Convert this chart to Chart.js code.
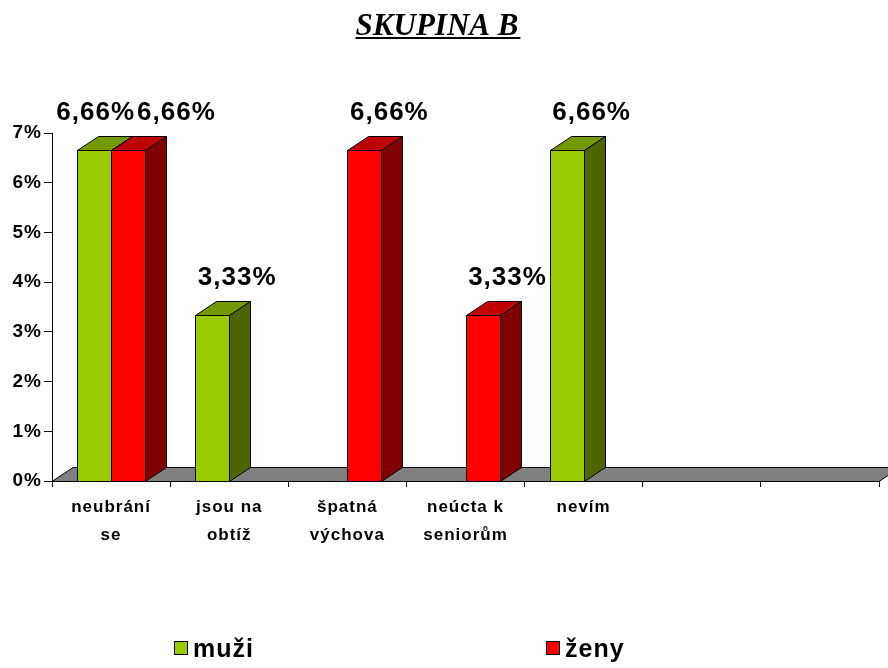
<!DOCTYPE html>
<html>
<head>
<meta charset="utf-8">
<script src="https://cdn.jsdelivr.net/npm/chart.js@4.4.0/dist/chart.umd.min.js"></script>
<style>
  body { margin: 0; background: #fff; }
  canvas { display: block; }
</style>
</head>
<body>
<canvas id="chart" width="888" height="668"></canvas>
<script>
// chart data
const chartTitle = 'SKUPINA B';
const categories = [['neubrání', 'se'], ['jsou na', 'obtíž'], ['špatná', 'výchova'], ['neúcta k', 'seniorům'], 'nevím', '', ''];
const seriesNames = ['muži', 'ženy'];
const muzi = [6.66, 3.33, null, null, 6.66, null, null];
const zeny = [6.66, null, 6.66, 3.33, null, null, null];
const yMax = 7;

// front / top / side colours of the 3d bars
const faces = [
  { front: '#99CC00', top: '#739900', side: '#4D6600' },
  { front: '#FF0000', top: '#BF0000', side: '#800000' }
];

const FONT = '"Liberation Sans", Arial, sans-serif';
const DX = 21, DY = 14;   // depth of the 3d effect

Chart.defaults.font.family = FONT;

function fmt(v) {
  return v.toFixed(2).replace('.', ',') + '%';
}

const bars3d = {
  id: 'bars3d',
  beforeDraw(chart) {
    chart.ctx.letterSpacing = '1px';
  },
  beforeDatasetsDraw(chart) {
    const ctx = chart.ctx;
    const area = chart.chartArea;
    ctx.save();
    ctx.lineWidth = 1;
    ctx.strokeStyle = '#000';

    // floor
    const fb = Math.round(area.bottom) + 0.5;
    ctx.beginPath();
    ctx.moveTo(area.left, fb);
    ctx.lineTo(area.right, fb);
    ctx.lineTo(area.right + DX, fb - DY);
    ctx.lineTo(area.left + DX, fb - DY);
    ctx.closePath();
    ctx.fillStyle = '#808080';
    ctx.fill();
    ctx.stroke();

    // value labels (they sit behind the bars)
    ctx.font = 'bold 26px ' + FONT;
    ctx.letterSpacing = '1px';
    ctx.fillStyle = '#000';
    ctx.textAlign = 'center';
    ctx.textBaseline = 'alphabetic';
    const n = chart.data.labels.length;
    for (let i = 0; i < n; i++) {
      const items = [];
      chart.data.datasets.forEach((ds, d) => {
        const v = ds.data[i];
        if (v == null) return;
        const bar = chart.getDatasetMeta(d).data[i];
        const txt = fmt(v);
        items.push({ txt, cx: bar.x + 25, y: bar.y - 30, w: ctx.measureText(txt).width });
      });
      if (items.length === 2 && items[1].cx - items[0].cx < (items[0].w + items[1].w) / 2) {
        const mid = (items[0].cx + items[1].cx) / 2;
        const half = (items[0].w + items[1].w) / 4 + 1;
        items[0].cx = mid - half;
        items[1].cx = mid + half;
      }
      items.forEach(it => ctx.fillText(it.txt, it.cx, it.y));
    }

    // bars, category by category so the faces overlap correctly
    for (let i = 0; i < n; i++) {
      chart.data.datasets.forEach((ds, d) => {
        if (ds.data[i] == null) return;
        const bar = chart.getDatasetMeta(d).data[i];
        const x0 = Math.round(bar.x - bar.width / 2) + 0.5;
        const x1 = Math.round(bar.x + bar.width / 2) + 0.5;
        const y = Math.round(bar.y) + 0.5;
        const b = Math.round(bar.base) + 0.5;
        const c = faces[d];

        ctx.fillStyle = c.front;
        ctx.beginPath();
        ctx.rect(x0, y, x1 - x0, b - y);
        ctx.fill();
        ctx.stroke();

        ctx.fillStyle = c.top;
        ctx.beginPath();
        ctx.moveTo(x0, y);
        ctx.lineTo(x1, y);
        ctx.lineTo(x1 + DX, y - DY);
        ctx.lineTo(x0 + DX, y - DY);
        ctx.closePath();
        ctx.fill();
        ctx.stroke();

        ctx.fillStyle = c.side;
        ctx.beginPath();
        ctx.moveTo(x1, y);
        ctx.lineTo(x1 + DX, y - DY);
        ctx.lineTo(x1 + DX, b - DY);
        ctx.lineTo(x1, b);
        ctx.closePath();
        ctx.fill();
        ctx.stroke();
      });
    }
    ctx.restore();
    return false;
  },
  afterDraw(chart) {
    const ctx = chart.ctx;
    ctx.save();

    // title, bold italic underlined
    ctx.letterSpacing = '0px';
    ctx.font = 'italic bold 31px "Liberation Serif", "Times New Roman", serif';
    ctx.fillStyle = '#000';
    ctx.textAlign = 'center';
    ctx.textBaseline = 'alphabetic';
    const tx = 437, ty = 35;
    ctx.fillText(chartTitle, tx, ty);
    const tw = ctx.measureText(chartTitle).width;
    ctx.fillRect(tx - tw / 2, ty + 2, tw + 2, 2);

    // legend
    const legendX = [174, 546];
    ctx.font = 'bold 25px ' + FONT;
    ctx.letterSpacing = '1px';
    ctx.textAlign = 'left';
    chart.data.datasets.forEach((ds, d) => {
      const x = legendX[d];
      ctx.fillStyle = faces[d].front;
      ctx.fillRect(x, 641, 14, 14);
      ctx.lineWidth = 1;
      ctx.strokeStyle = '#000';
      ctx.strokeRect(x + 0.5, 641.5, 13, 13);
      ctx.fillStyle = '#000';
      ctx.fillText(ds.label, x + 19, 657);
    });
    ctx.restore();
  }
};

new Chart(document.getElementById('chart'), {
  type: 'bar',
  data: {
    labels: categories,
    datasets: [
      { label: seriesNames[0], data: muzi, backgroundColor: faces[0].front, borderColor: '#000', borderWidth: 1 },
      { label: seriesNames[1], data: zeny, backgroundColor: faces[1].front, borderColor: '#000', borderWidth: 1 }
    ]
  },
  options: {
    responsive: false,
    animation: false,
    events: [],
    categoryPercentage: 0.576,
    barPercentage: 1,
    layout: { padding: { top: 133, right: 9, bottom: 0, left: 0 } },
    plugins: {
      legend: { display: false },
      title: { display: false },
      tooltip: { enabled: false }
    },
    scales: {
      x: {
        offset: true,
        ticks: {
          autoSkip: false,
          maxRotation: 0,
          minRotation: 0,
          color: '#000',
          padding: 6,
          font: { size: 17, weight: 'bold', lineHeight: 1.65 }
        },
        grid: { offset: true, drawOnChartArea: false, tickLength: 6, color: '#000' },
        border: { color: '#000' },
        afterFit: s => { s.height = 187; }
      },
      y: {
        min: 0,
        max: yMax,
        ticks: {
          stepSize: 1,
          color: '#000',
          padding: 2,
          font: { size: 19, weight: 'bold' },
          callback: v => v + '%'
        },
        grid: { drawOnChartArea: false, tickLength: 8, color: '#000' },
        border: { color: '#000' },
        afterFit: s => { s.width = 52; }
      }
    }
  },
  plugins: [bars3d]
});
</script>
</body>
</html>
